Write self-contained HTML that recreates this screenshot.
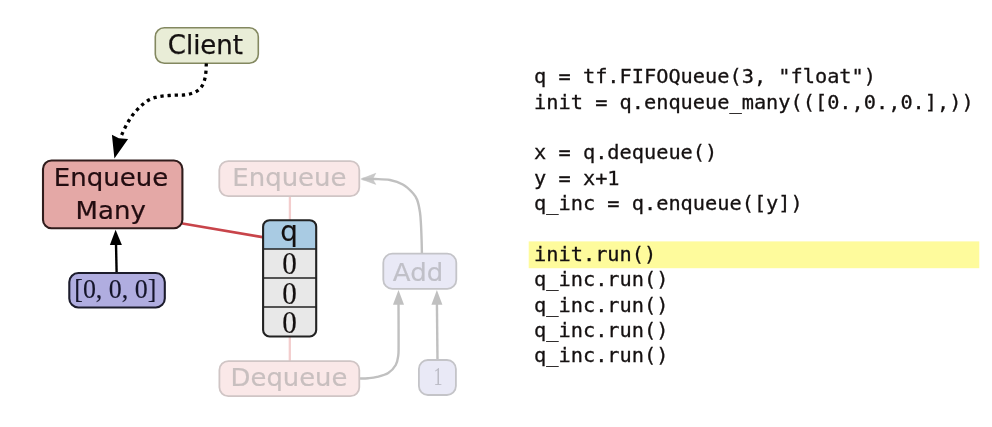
<!DOCTYPE html>
<html lang="en">
<head>
<meta charset="utf-8">
<title>FIFOQueue diagram</title>
<style>
  html, body { margin: 0; padding: 0; background: #ffffff; }
  body { width: 992px; height: 427px; overflow: hidden; position: relative; }
  svg { position: absolute; left: 0; top: 0; display: block; filter: blur(0.6px); }
  text { white-space: pre; }
  .sans { font-family: "DejaVu Sans", "Liberation Sans", sans-serif; }
  .serif { font-family: "Liberation Serif", "DejaVu Serif", serif; }
  .mono { font-family: "DejaVu Sans Mono", "Liberation Mono", monospace; font-size: 20.3px; fill: #141010; stroke: #141010; stroke-width: 0.3px; }
  .dark { fill: #141010; stroke: #141010; stroke-width: 0.25px; }
  .fadepink { fill: #c8bfbf; stroke: #c8bfbf; stroke-width: 0.2px; }
  .fadeblue { fill: #c0c0c8; stroke: #c0c0c8; stroke-width: 0.2px; }
</style>
</head>
<body>
<svg width="992" height="427" viewBox="0 0 992 427">
  <rect x="0" y="0" width="992" height="427" fill="#ffffff"/>

  <!-- code highlight -->
  <rect x="528.7" y="241.4" width="450.6" height="26.8" fill="#fefb9c"/>

  <!-- faded connectors -->
  <g fill="none" stroke="#f3cdcd" stroke-width="2.3">
    <line x1="289.9" y1="196" x2="289.9" y2="220"/>
    <line x1="289.8" y1="337" x2="289.8" y2="361"/>
  </g>
  <g fill="none" stroke="#c0c0c0" stroke-width="2.4" stroke-linecap="butt">
    <path d="M421.90 253.00 C421.85 250.83 421.75 244.67 421.60 240.00 C421.45 235.33 421.27 229.58 421.00 225.00 C420.73 220.42 420.63 216.67 420.00 212.50 C419.37 208.33 418.37 203.22 417.20 200.00 C416.03 196.78 415.40 195.78 413.00 193.20 C410.60 190.62 406.63 186.70 402.80 184.50 C398.97 182.30 394.63 180.92 390.00 180.00 C385.37 179.08 379.58 179.17 375.00 179.00 C370.42 178.83 364.58 179.00 362.50 179.00"/>
    <path d="M360.00 378.50 C361.33 378.45 365.17 378.47 368.00 378.20 C370.83 377.93 373.62 377.75 377.00 376.90 C380.38 376.05 385.12 375.08 388.25 373.10 C391.38 371.12 394.09 367.85 395.75 365.00 C397.41 362.15 397.72 359.33 398.20 356.00 C398.68 352.67 398.55 354.00 398.60 345.00 C398.65 336.00 398.52 309.17 398.50 302.00"/>
    <line x1="437.5" y1="360" x2="436.9" y2="302"/>
  </g>
  <!-- vee arrowhead into Enqueue -->
  <path d="M360.9 179 L375.8 173.3 L372.6 179 L375.8 184.4 Z" fill="#c0c0c0" fill-opacity="0.85" stroke="#c0c0c0" stroke-width="0.5" stroke-linejoin="miter"/>
  <!-- arrowheads into Add -->
  <g fill="#c0c0c0" stroke="none">
    <path d="M398.5 290 L393.0 304.8 L404.0 304.8 Z"/>
    <path d="M436.9 290 L431.4 304.8 L442.4 304.8 Z"/>
  </g>

  <!-- faded boxes -->
  <rect x="219.3" y="161.1" width="140.0" height="35.1" rx="9" fill="#fae8e8" stroke="#d0c5c5" stroke-width="1.8"/>
  <text class="sans fadepink" transform="translate(289.4 186.0) scale(1.0 0.95)" font-size="26" text-anchor="middle">Enqueue</text>
  <rect x="219.4" y="361.1" width="139.9" height="35.1" rx="9" fill="#fae8e8" stroke="#d0c5c5" stroke-width="1.8"/>
  <text class="sans fadepink" transform="translate(289.0 386.0) scale(0.995 0.95)" font-size="26" text-anchor="middle">Dequeue</text>
  <rect x="383.3" y="253.7" width="73" height="35.1" rx="9" fill="#e9e9f6" stroke="#c4c4c8" stroke-width="1.8"/>
  <text class="sans fadeblue" transform="translate(418.0 280.5) scale(1.0 0.94)" font-size="26" text-anchor="middle">Add</text>
  <rect x="418.9" y="360" width="37" height="35" rx="9" fill="#e9e9f6" stroke="#c4c4c8" stroke-width="1.8"/>
  <text class="serif" transform="translate(438.0 385.3) scale(0.72 0.98)" font-size="25" text-anchor="middle" fill="#bcbcc6">1</text>

  <!-- red edge -->
  <line x1="181" y1="223.25" x2="264" y2="237.4" stroke="#c8444a" stroke-width="2.6"/>

  <!-- client -->
  <rect x="155.3" y="27.7" width="103" height="35.5" rx="9" fill="#e9edd7" stroke="#838860" stroke-width="1.6"/>
  <text class="sans dark" transform="translate(205.4 53.8) scale(1 1)" font-size="26" text-anchor="middle" style="stroke-width:0.25px">Client</text>

  <!-- dotted arrow -->
  <path d="M206.40 63.40 C206.38 63.67 206.33 63.55 206.25 65.00 C206.17 66.45 206.15 69.75 205.90 72.10 C205.65 74.45 205.38 76.80 204.75 79.10 C204.12 81.40 203.35 83.93 202.10 85.90 C200.85 87.87 199.17 89.59 197.25 90.90 C195.33 92.21 192.89 93.07 190.60 93.75 C188.31 94.43 185.89 94.78 183.50 95.00 C181.11 95.22 178.65 95.02 176.25 95.10 C173.85 95.18 171.46 95.33 169.10 95.50 C166.74 95.67 164.38 95.78 162.10 96.10 C159.82 96.42 157.62 96.75 155.40 97.40 C153.18 98.05 150.88 98.82 148.75 100.00 C146.62 101.18 144.43 102.98 142.60 104.50 C140.77 106.02 139.33 107.45 137.75 109.10 C136.17 110.75 134.54 112.54 133.10 114.40 C131.66 116.26 130.35 118.23 129.10 120.25 C127.85 122.27 126.70 124.36 125.60 126.50 C124.50 128.64 123.33 131.30 122.50 133.10 C121.67 134.90 120.92 136.60 120.60 137.30" fill="none" stroke="#000" stroke-width="3.3" stroke-dasharray="3.3 3.85"/>
  <path d="M114.4 158.6 L111.9 134.7 L118.8 138.2 L128.1 139.1 Z" fill="#000"/>

  <!-- enqueue many -->
  <rect x="43" y="160.5" width="139.4" height="67.8" rx="8.5" fill="#e4a8a6" stroke="#301c1c" stroke-width="2.1"/>
  <text class="sans dark" transform="translate(111 186.1) scale(1.0 0.96)" font-size="26" text-anchor="middle" style="fill:#220c10;stroke:#220c10">Enqueue</text>
  <text class="sans dark" transform="translate(110.7 219.1) scale(1 0.98)" font-size="26" text-anchor="middle" style="fill:#220c10;stroke:#220c10">Many</text>

  <!-- arrow from value -->
  <line x1="116.6" y1="272" x2="116" y2="243" stroke="#000" stroke-width="2.4"/>
  <path d="M115.6 229.8 L109.9 245.0 L121.9 245.0 Z" fill="#000"/>

  <!-- value box -->
  <rect x="69.3" y="273" width="95.5" height="34.5" rx="9" fill="#b0ade0" stroke="#1c1c2c" stroke-width="2.1"/>
  <text class="serif dark" transform="translate(115.3 298.3) scale(0.96 1.03)" font-size="27" text-anchor="middle" style="stroke-width:0.15px;fill:#15152a;stroke:#15152a">[0, 0, 0]</text>

  <!-- queue -->
  <g>
    <path d="M263.3 249.3 V226.2 a6 6 0 0 1 6 -6 H310.2 a6 6 0 0 1 6 6 V249.3 Z" fill="#a9cbe3"/>
    <path d="M263.3 249.3 H316.2 V330.5 a6 6 0 0 1 -6 6 H269.3 a6 6 0 0 1 -6 -6 Z" fill="#e8e8e8"/>
    <rect x="263.1" y="220.2" width="53.1" height="116.3" rx="6.5" fill="none" stroke="#222222" stroke-width="2.1"/>
    <g stroke="#222222" stroke-width="1.5">
      <line x1="263.3" y1="249.1" x2="316.2" y2="249.1"/>
      <line x1="263.3" y1="278.1" x2="316.2" y2="278.1"/>
      <line x1="263.3" y1="307.1" x2="316.2" y2="307.1"/>
    </g>
    <text class="sans dark" transform="translate(289.1 240.6) scale(1 1)" font-size="27.8" text-anchor="middle" style="stroke-width:0.15px">q</text>
    <text class="serif dark" transform="translate(289.5 274.3) scale(1.04 1.14)" font-size="28" text-anchor="middle" style="stroke-width:0.15px">0</text>
    <text class="serif dark" transform="translate(289.5 303.8) scale(1.04 1.14)" font-size="28" text-anchor="middle" style="stroke-width:0.15px">0</text>
    <text class="serif dark" transform="translate(289.5 332.6) scale(1.04 1.14)" font-size="28" text-anchor="middle" style="stroke-width:0.15px">0</text>
  </g>

  <!-- code -->
  <text class="mono" x="534.10" y="83.20">q = tf.FIFOQueue(3, &quot;float&quot;)</text>
  <text class="mono" x="534.10" y="108.58">init = q.enqueue_many(([0.,0.,0.],))</text>
  <text class="mono" x="534.10" y="159.34">x = q.dequeue()</text>
  <text class="mono" x="534.10" y="184.72">y = x+1</text>
  <text class="mono" x="534.10" y="210.10">q_inc = q.enqueue([y])</text>
  <text class="mono" x="534.10" y="260.86">init.run()</text>
  <text class="mono" x="534.10" y="286.24">q_inc.run()</text>
  <text class="mono" x="534.10" y="311.62">q_inc.run()</text>
  <text class="mono" x="534.10" y="337.00">q_inc.run()</text>
  <text class="mono" x="534.10" y="362.38">q_inc.run()</text>
</svg>
</body>
</html>
